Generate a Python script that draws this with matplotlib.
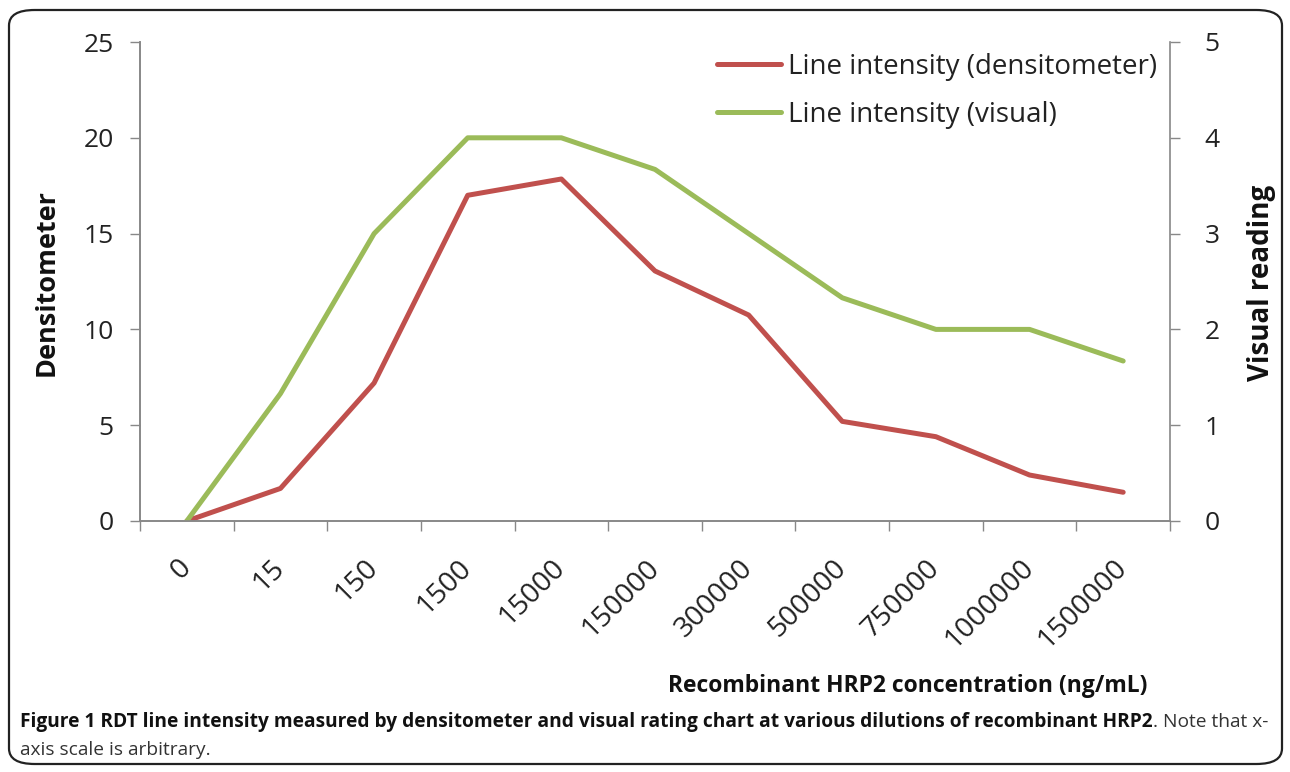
import matplotlib
matplotlib.use("Agg")
import matplotlib.pyplot as plt
from matplotlib.patches import FancyBboxPatch
from matplotlib.ticker import FixedLocator, NullFormatter, FixedFormatter

categories = ["0", "15", "150", "1500", "15000", "150000", "300000",
              "500000", "750000", "1000000", "1500000"]
densitometer = [0.0, 1.7, 7.2, 17.0, 17.85, 13.05, 10.75, 5.2, 4.4, 2.4, 1.5]
visual = [0.0, 1.33, 3.0, 4.0, 4.0, 3.67, 3.0, 2.33, 2.0, 2.0, 1.67]

left_ticks = [0, 5, 10, 15, 20, 25]
right_ticks = [0, 1, 2, 3, 4, 5]

RED = "#C0504D"
GREEN = "#9BBB59"
GRAY = "#888888"
TXT = "#222222"

FONT = ["Open Sans", "DejaVu Sans"]
plt.rcParams["font.family"] = FONT

W, H = 1290, 772
fig = plt.figure(figsize=(W / 100, H / 100), dpi=100)

# rounded border
border = FancyBboxPatch((9 / W, 8 / H), (1282 - 9) / W, (762 - 8) / H,
                        boxstyle="round,pad=0,rounding_size=0.02",
                        transform=fig.transFigure, fill=False,
                        edgecolor="#222222", linewidth=1.6)
fig.patches.append(border)

ax = fig.add_axes([140 / W, 1 - 521 / H, (1170 - 140) / W, (521 - 42) / H])
ax2 = ax.twinx()

x = list(range(len(categories)))
l1, = ax.plot(x, densitometer, color=RED, lw=3.6, solid_capstyle="round",
              solid_joinstyle="round", label="Line intensity (densitometer)")
l2, = ax2.plot(x, visual, color=GREEN, lw=3.6, solid_capstyle="round",
               solid_joinstyle="round", label="Line intensity (visual)")

ax.set_xlim(-0.5, len(categories) - 0.5)
ax.set_ylim(0, 25)
ax2.set_ylim(0, 5)

ax.set_yticks(left_ticks)
ax2.set_yticks(right_ticks)

ax.xaxis.set_major_locator(FixedLocator([i - 0.5 for i in range(len(categories) + 1)]))
ax.xaxis.set_major_formatter(NullFormatter())
ax.xaxis.set_minor_locator(FixedLocator(x))
ax.xaxis.set_minor_formatter(FixedFormatter(categories))
ax.tick_params(axis="x", which="major", length=7, width=1, color=GRAY, direction="out")
ax.tick_params(axis="x", which="minor", length=0, pad=31, labelsize=20.5, labelcolor=TXT)
for lab in ax.xaxis.get_minorticklabels():
    lab.set_rotation(45)
    lab.set_ha("right")
    lab.set_va("center")
    lab.set_rotation_mode("anchor")

ax.tick_params(axis="y", length=7, width=1, color=GRAY, labelsize=19, pad=12, labelcolor=TXT)
ax2.tick_params(axis="y", length=7, width=1, color=GRAY, labelsize=19, pad=18, labelcolor=TXT)

for a in (ax, ax2):
    a.spines["top"].set_visible(False)
    for s in ("left", "right", "bottom"):
        a.spines[s].set_color(GRAY)
        a.spines[s].set_linewidth(1.2)
ax.spines["right"].set_visible(False)

fig.text(47 / W, 1 - 283 / H, "Densitometer", rotation=90, ha="center", va="center",
         fontsize=19.5, fontweight="bold", color="#111111")
fig.text(1262 / W, 1 - 283 / H, "Visual reading", rotation=90, ha="center", va="center",
         fontsize=20, fontweight="bold", color="#111111")
fig.text(908 / W, 1 - 686 / H, "Recombinant HRP2 concentration (ng/mL)", ha="center", va="center",
         fontsize=16.5, fontweight="bold", color="#111111")

leg = ax2.legend(handles=[l1, l2], loc="upper right", bbox_to_anchor=(1168 / W, 1 - 42 / H),
                 bbox_transform=fig.transFigure, frameon=False, fontsize=20,
                 handlelength=2.3, handletextpad=0.25, labelspacing=0.72, borderaxespad=0)
for t in leg.get_texts():
    t.set_color(TXT)

# caption with mixed weight
bold_part = "Figure 1 RDT line intensity measured by densitometer and visual rating chart at various dilutions of recombinant HRP2"
reg_part = ". Note that x-"
line2 = "axis scale is arbitrary."
cap_fs = 13.8
t1 = fig.text(20 / W, 1 - 722 / H, bold_part, ha="left", va="center", fontsize=cap_fs,
              fontweight="bold", color="#111111")
fig.canvas.draw()
r = fig.canvas.get_renderer()
bb = t1.get_window_extent(r)
fig.text(bb.x1 / W, 1 - 722 / H, reg_part, ha="left", va="center", fontsize=cap_fs,
         color="#333333")
fig.text(20 / W, 1 - 750 / H, line2, ha="left", va="center", fontsize=cap_fs,
         color="#333333")

fig.savefig("out.png", dpi=100)
